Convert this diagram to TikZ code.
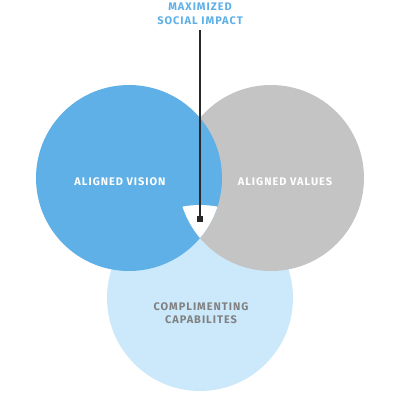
\documentclass[tikz,border=0pt]{standalone}
\usepackage{fontspec}
\setmainfont{Fira Sans}
\newfontfamily\vennfont[LetterSpace=9]{Fira Sans}
\usetikzlibrary{positioning}
\definecolor{visionblue}{RGB}{94,176,230}
\definecolor{valuesgray}{RGB}{196,196,196}
\definecolor{capablue}{RGB}{204,233,251}
\definecolor{labelgray}{RGB}{128,128,128}
\definecolor{pointerdark}{RGB}{40,40,40}
\tikzset{
  venn label/.style={font=\vennfont\bfseries\fontsize{11}{13.5}\selectfont, align=center},
  marker/.style={fill=pointerdark, minimum size=6pt, inner sep=0pt}
}
\begin{document}
\begin{tikzpicture}[x=1pt, y=-1pt]
  \useasboundingbox (0,0) rectangle (400,400);
  % the three circles
  \fill[capablue] (200,298) circle [radius=93pt];
  \fill[valuesgray] (271,178) circle [radius=93pt];
  \fill[visionblue] (129,178) circle [radius=93pt];
  % the common part
  \begin{scope}
    \clip (129,178) circle [radius=93pt];
    \clip (271,178) circle [radius=93pt];
    \fill[white] (200,298) circle [radius=93pt];
  \end{scope}
  % labels
  \node[venn label, white] (vision) at (120,182) {ALIGNED VISION};
  \node[venn label, white] (values) at (285,182) {ALIGNED VALUES};
  \node[venn label, labelgray] (capab) at (201,313) {COMPLIMENTING\\CAPABILITES};
  \node[venn label, visionblue, inner sep=1pt] (impact) at (200,14) {MAXIMIZED\\SOCIAL IMPACT};
  \node[marker] (spot) at (200,219) {};
  \draw[pointerdark, line width=1.6pt] (impact.south |- 0,30) -- (spot);
\end{tikzpicture}
\end{document}
